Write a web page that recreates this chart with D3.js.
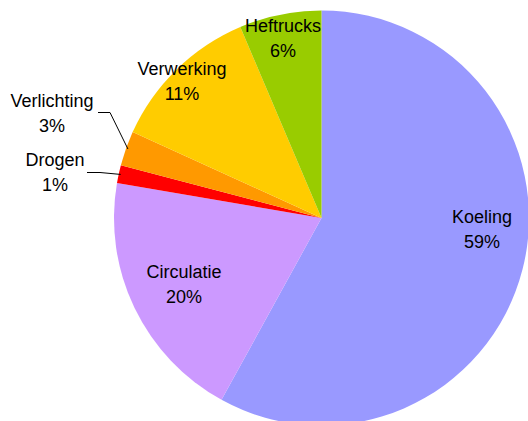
<!DOCTYPE html>
<html>
<head>
<meta charset="utf-8">
<script src="https://cdn.jsdelivr.net/npm/d3@7"></script>
<style>
  body { margin: 0; background: #fff; }
  text { font-family: "Liberation Sans", Arial, sans-serif; font-size: 18px; fill: #000; }
</style>
</head>
<body>
<script>
// energy use per category (%), clockwise from 12 o'clock
var categories = ["Koeling", "Circulatie", "Drogen", "Verlichting", "Verwerking", "Heftrucks"];
var values = [58.0, 19.7, 1.4, 2.7, 11.8, 6.4];
var pctLabels = ["59%", "20%", "1%", "3%", "11%", "6%"];
var colors = ["#9999FF", "#CC99FF", "#FF0000", "#FF9900", "#FFCC00", "#99CC00"];

// label placement (first line baseline), leader lines where needed
var labelPos = {
  "Koeling": [482, 223],
  "Circulatie": [184, 278],
  "Drogen": [55, 166],
  "Verlichting": [52, 107],
  "Verwerking": [182, 75],
  "Heftrucks": [283, 32]
};
var leaders = {
  "Drogen": [[87, 172.5], [100, 172.5]],
  "Verlichting": [[98, 112.5], [110, 112.5]]
};

var width = 528, height = 421;
var cx = 321.5, cy = 218, radius = 207.5;

var svg = d3.select("body").append("svg")
    .attr("width", width)
    .attr("height", height);

var data = categories.map(function(c, i) {
  return {name: c, value: values[i], label: pctLabels[i], color: colors[i]};
});

var pie = d3.pie()
    .sort(null)
    .value(function(d) { return d.value; });

var arc = d3.arc()
    .innerRadius(0)
    .outerRadius(radius);

var arcs = pie(data);

var g = svg.append("g")
    .attr("transform", "translate(" + cx + "," + cy + ")");

g.selectAll("path")
  .data(arcs)
  .enter()
  .append("path")
  .attr("d", arc)
  .attr("fill", function(d) { return d.data.color; });

// leader lines: from label end to a point on the slice edge
arcs.forEach(function(a) {
  var pts = leaders[a.data.name];
  if (!pts) return;
  var mid = (a.startAngle + a.endAngle) / 2;
  var ex = cx + (radius - 2) * Math.sin(mid);
  var ey = cy - (radius - 2) * Math.cos(mid);
  svg.append("path")
    .attr("d", d3.line()(pts.concat([[ex, ey]])))
    .attr("fill", "none")
    .attr("stroke", "#000")
    .attr("stroke-width", 1);
});

var labels = svg.selectAll("text.lbl")
  .data(arcs)
  .enter()
  .append("text")
  .attr("class", "lbl")
  .attr("text-anchor", "middle")
  .attr("x", function(d) { return labelPos[d.data.name][0]; })
  .attr("y", function(d) { return labelPos[d.data.name][1]; });

labels.append("tspan")
  .text(function(d) { return d.data.name; });

labels.append("tspan")
  .attr("x", function(d) { return labelPos[d.data.name][0]; })
  .attr("dy", 24.5)
  .text(function(d) { return d.data.label; });
</script>
</body>
</html>
